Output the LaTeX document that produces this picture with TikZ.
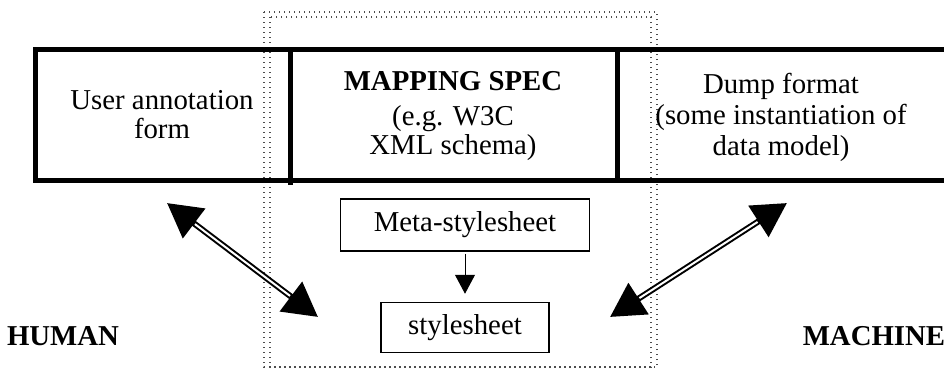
\documentclass[tikz,border=0pt]{standalone}
\usepackage{fontspec}
\setmainfont{Liberation Serif}
\usetikzlibrary{arrows.meta}
\usetikzlibrary{positioning}

\begin{document}
\begin{tikzpicture}[x=0.5pt,y=-0.5pt,
		font=\fontsize{14.4}{14.5}\selectfont,
		cell/.style={align=center},
		smallbox/.style={draw,line width=0.75pt,inner sep=0pt},
		bigarrow/.style={line width=3pt,{Triangle[length=17pt,width=18pt]}-{Triangle[length=17pt,width=18pt]}},
		gap/.style={white,line width=1pt,shorten <=17.5pt,shorten >=17.5pt},
		dots/.style={black!70,line width=0.65pt,dash pattern=on 0.65pt off 1.85pt}]
		\useasboundingbox (0,0) rectangle (944,371);
		\draw[dots] (264,12) rectangle (657,367);
		\draw[dots] (270,17) rectangle (651,367);
		\draw[line width=2.5pt] (950,49.5) -- (35.5,49.5) -- (35.5,180) -- (950,180);
		\draw[line width=2.5pt] (290,49.5) -- (290,185);
		\draw[line width=2.5pt] (617,49.5) -- (617,180);
		\node[cell] (user) at (162,115) {User annotation\\form};
		\node[cell] (spec) at (453,116) {\textbf{MAPPING SPEC}\\[3pt](e.g. W3C\\XML schema)};
		\node[cell] (dump) at (781,117) {Dump format\\[1pt](some instantiation of\\[1pt]data model)};
		\node[smallbox,minimum width=124.5pt,minimum height=26pt] (meta) at (465,225) {Meta-stylesheet};
		\node[smallbox,minimum width=84pt,minimum height=25pt,below=25pt of meta] (sheet) {stylesheet};
		\draw[line width=0.5pt,-{Triangle[length=9.5pt,width=10pt]},shorten <=1pt,shorten >=4pt] (meta) -- (sheet);
		\node[font=\fontsize{14.4}{14.5}\selectfont\bfseries] (human) at (63,336) {HUMAN};
		\node[font=\fontsize{14.4}{14.5}\selectfont\bfseries] (machine) at (874,336) {MACHINE};
		\coordinate (userTip) at (167,203);
		\coordinate (sheetL) at (318,317);
		\coordinate (sheetR) at (610,317);
		\coordinate (dumpTip) at (787,203);
		\draw[bigarrow] (userTip) -- (sheetL);
		\draw[gap] (userTip) -- (sheetL);
		\draw[bigarrow] (sheetR) -- (dumpTip);
		\draw[gap] (sheetR) -- (dumpTip);
	\end{tikzpicture}
\end{document}
